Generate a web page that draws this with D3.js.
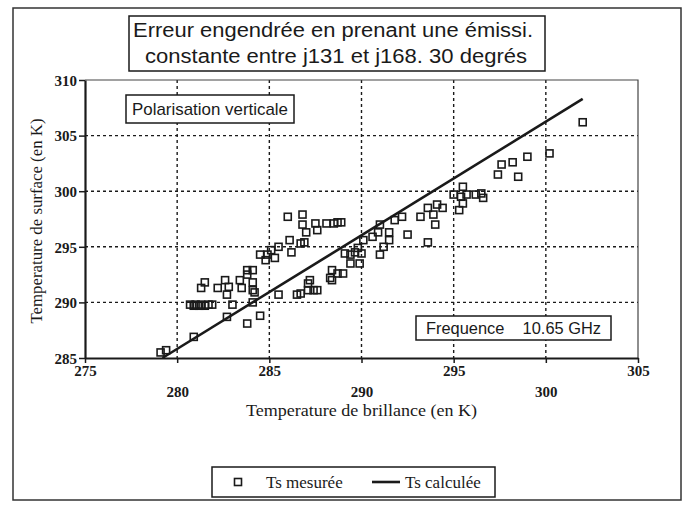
<!DOCTYPE html>
<html><head><meta charset="utf-8">
<script src="https://cdn.jsdelivr.net/npm/d3@7"></script>
<style>
html,body{margin:0;padding:0;background:#fff;}
svg{display:block;}
</style></head><body>
<svg id="chart" width="684" height="506"></svg>
<script>
const titleLines = ["Erreur engendrée en prenant une émissi.", "constante entre j131 et j168. 30 degrés"];
const xAxisTitle = "Temperature de brillance (en K)";
const yAxisTitle = "Temperature de surface (en K)";
const noteTopLeft = "Polarisation verticale";
const noteBottomRight = "Frequence\u00a0\u00a0\u00a0 10.65 GHz";
const seriesNames = ["Ts mesurée", "Ts calculée"];
const xTickValues = [275, 280, 285, 290, 295, 300, 305];
const yTickValues = [285, 290, 295, 300, 305, 310];

// Ts mesurée : brightness temperature (x) and measured surface temperature (y)
const tbMesure = [279.1, 279.4, 280.9, 282.7, 283.8, 284.5, 284.1, 285.5, 280.7, 280.9,
  281.0, 281.2, 281.3, 281.5, 281.7, 281.9, 283.0, 286.5, 286.7, 287.1,
  287.4, 287.6, 287.2, 287.1, 288.3, 288.4, 288.7, 289.0, 288.4, 289.4,
  289.9, 289.1, 289.4, 289.65, 289.8, 290.0, 290.1, 290.6, 290.9, 291.0,
  291.2, 291.0, 291.5, 291.5, 291.8, 292.2, 292.5, 293.2, 293.6, 293.9,
  294.0, 294.1, 294.4, 293.6, 295.0, 295.4, 295.7, 296.2, 296.5, 296.6,
  295.5, 295.3, 295.5, 297.4, 297.6, 298.2, 298.5, 299.0, 300.2, 302.0,
  288.9, 288.5, 288.7, 288.1, 287.5, 287.6, 287.0, 286.8, 286.8, 286.0,
  286.1, 286.7, 286.9, 286.2, 285.5, 285.1, 284.5, 284.8, 284.9, 285.3,
  283.8, 284.1, 283.8, 284.1, 284.1, 283.4, 282.6, 281.5, 281.3, 282.2,
  282.8, 283.5, 282.7, 284.2];
const tsMesure = [285.5, 285.7, 286.9, 288.7, 288.1, 288.8, 290.0, 290.7, 289.8, 289.7,
  289.8, 289.7, 289.8, 289.7, 289.8, 289.8, 289.8, 290.7, 290.8, 291.1,
  291.1, 291.1, 292.0, 291.7, 292.2, 292.9, 292.6, 292.6, 292.0, 293.5,
  293.5, 294.4, 294.3, 294.5, 294.9, 294.4, 295.6, 295.9, 296.3, 297.0,
  295.0, 294.3, 296.3, 295.6, 297.4, 297.7, 296.1, 297.7, 298.5, 297.9,
  297.0, 298.8, 298.5, 295.4, 299.7, 299.5, 299.7, 299.7, 299.8, 299.4,
  298.9, 298.3, 300.4, 301.5, 302.4, 302.6, 301.3, 303.1, 303.4, 306.2,
  297.2, 297.1, 297.2, 297.1, 297.1, 296.5, 296.3, 297.0, 297.9, 297.7,
  295.6, 295.3, 295.4, 294.5, 295.0, 294.7, 294.3, 293.8, 294.3, 294.0,
  292.9, 292.9, 292.5, 291.8, 291.1, 292.0, 292.0, 291.8, 291.3, 291.3,
  291.4, 291.3, 290.7, 290.9];
// Ts calculée : fitted line
const tbCalcule = [279.2, 302.0];
const tsCalcule = [285.0, 308.3];

const svg = d3.select("#chart");
const serif = "'Liberation Serif', 'Times New Roman', serif";
const sans = "'Liberation Sans', Arial, Helvetica, sans-serif";
const ink = "#1a1a1a";

const plot = {left: 85, right: 638, top: 80, bottom: 358};
const x = d3.scaleLinear().domain([275, 305]).range([plot.left, plot.right]);
const y = d3.scaleLinear().domain([285, 310]).range([plot.bottom, plot.top]);

// outer frame
svg.append("rect").attr("x", 13).attr("y", 8).attr("width", 668).attr("height", 492)
  .attr("fill", "none").attr("stroke", "#333").attr("stroke-width", 1.5);

// grid lines
const grid = svg.append("g").attr("stroke", ink).attr("stroke-width", 1.4).attr("stroke-dasharray", "3,3");
grid.selectAll("line.v").data(xTickValues.slice(1, -1)).join("line").attr("class", "v")
  .attr("x1", d => x(d)).attr("x2", d => x(d)).attr("y1", plot.top).attr("y2", plot.bottom);
grid.selectAll("line.h").data(yTickValues.slice(1, -1)).join("line").attr("class", "h")
  .attr("x1", plot.left).attr("x2", plot.right).attr("y1", d => y(d)).attr("y2", d => y(d));

// plot frame (thin top/right)
svg.append("path").attr("d", `M${plot.left},${plot.top}H${plot.right}V${plot.bottom}`)
  .attr("fill", "none").attr("stroke", "#444").attr("stroke-width", 1.2);

// axes
const yAxis = svg.append("g").attr("transform", `translate(${plot.left},0)`)
  .call(d3.axisLeft(y).tickValues(yTickValues).tickSize(6).tickSizeOuter(0).tickPadding(2).tickFormat(d3.format("d")));
yAxis.select(".domain").attr("stroke", ink).attr("stroke-width", 2.2);
yAxis.selectAll(".tick line").attr("stroke", ink).attr("stroke-width", 1.5);
yAxis.selectAll(".tick text").attr("font-family", serif).attr("font-size", 15).attr("fill", ink)
  .attr("font-weight", "bold").attr("dy", "0.35em");

const xAxis = svg.append("g").attr("transform", `translate(0,${plot.bottom})`)
  .call(d3.axisBottom(x).tickValues(xTickValues).tickSize(5).tickSizeOuter(0).tickPadding(3).tickFormat(d3.format("d")));
xAxis.select(".domain").attr("stroke", ink).attr("stroke-width", 2.2);
xAxis.selectAll(".tick line").attr("stroke", ink).attr("stroke-width", 1.5);
xAxis.selectAll(".tick text").attr("font-family", serif).attr("font-size", 15).attr("fill", ink)
  .attr("font-weight", "bold")
  .attr("y", (d, i) => i % 2 === 0 ? 7 : 28).attr("dy", "0.71em");

// axis titles
svg.append("text").attr("x", x(290)).attr("y", 416).attr("text-anchor", "middle")
  .attr("font-family", serif).attr("font-size", 17).attr("fill", ink)
  .attr("textLength", 231).attr("lengthAdjust", "spacingAndGlyphs").text(xAxisTitle);
svg.append("text").attr("transform", `translate(42,${(plot.top + plot.bottom) / 2 + 2}) rotate(-90)`)
  .attr("text-anchor", "middle").attr("font-family", serif).attr("font-size", 17).attr("fill", ink)
  .attr("textLength", 205).attr("lengthAdjust", "spacingAndGlyphs").text(yAxisTitle);

// fitted line
svg.append("path").datum(d3.zip(tbCalcule, tsCalcule))
  .attr("d", d3.line().x(d => x(d[0])).y(d => y(d[1])))
  .attr("fill", "none").attr("stroke", ink).attr("stroke-width", 2.6);

// measured points
const s = 7;
svg.append("g").selectAll("rect").data(d3.zip(tbMesure, tsMesure)).join("rect")
  .attr("x", d => x(d[0]) - s / 2).attr("y", d => y(d[1]) - s / 2)
  .attr("width", s).attr("height", s)
  .attr("fill", "none").attr("stroke", ink).attr("stroke-width", 1.6);

// title box
const tb = svg.append("g");
tb.append("rect").attr("x", 129).attr("y", 16).attr("width", 416).attr("height", 55)
  .attr("fill", "#fff").attr("stroke", ink).attr("stroke-width", 1.5);
tb.append("text").attr("x", 333).attr("y", 37).attr("text-anchor", "middle")
  .attr("font-family", sans).attr("font-size", 20).attr("fill", ink)
  .attr("textLength", 400).attr("lengthAdjust", "spacingAndGlyphs").text(titleLines[0]);
tb.append("text").attr("x", 336).attr("y", 63).attr("text-anchor", "middle")
  .attr("font-family", sans).attr("font-size", 20).attr("fill", ink)
  .attr("textLength", 382).attr("lengthAdjust", "spacingAndGlyphs").text(titleLines[1]);

// notes
function note(x0, y0, w, h, txt, len) {
  const g = svg.append("g");
  g.append("rect").attr("x", x0).attr("y", y0).attr("width", w).attr("height", h)
    .attr("fill", "#fff").attr("stroke", ink).attr("stroke-width", 1.5);
  g.append("text").attr("x", x0 + w / 2).attr("y", y0 + h / 2).attr("dy", "0.36em")
    .attr("text-anchor", "middle").attr("font-family", sans).attr("font-size", 17).attr("fill", ink)
    .attr("textLength", len).attr("lengthAdjust", "spacingAndGlyphs").text(txt);
}
note(126, 95, 168, 28, noteTopLeft, 156);
note(416, 316, 195, 24, noteBottomRight, 175);

// legend
const lg = svg.append("g");
lg.append("rect").attr("x", 212).attr("y", 467).attr("width", 283).attr("height", 30)
  .attr("fill", "#fff").attr("stroke", ink).attr("stroke-width", 1.5);
lg.append("rect").attr("x", 238 - s / 2).attr("y", 482 - s / 2).attr("width", s).attr("height", s)
  .attr("fill", "none").attr("stroke", ink).attr("stroke-width", 1.6);
lg.append("text").attr("x", 266).attr("y", 482).attr("dy", "0.35em")
  .attr("font-family", serif).attr("font-size", 17).attr("fill", ink).text(seriesNames[0]);
lg.append("line").attr("x1", 372).attr("x2", 400).attr("y1", 482).attr("y2", 482)
  .attr("stroke", ink).attr("stroke-width", 2.6);
lg.append("text").attr("x", 405).attr("y", 482).attr("dy", "0.35em")
  .attr("font-family", serif).attr("font-size", 17).attr("fill", ink).text(seriesNames[1]);
</script>
</body></html>
